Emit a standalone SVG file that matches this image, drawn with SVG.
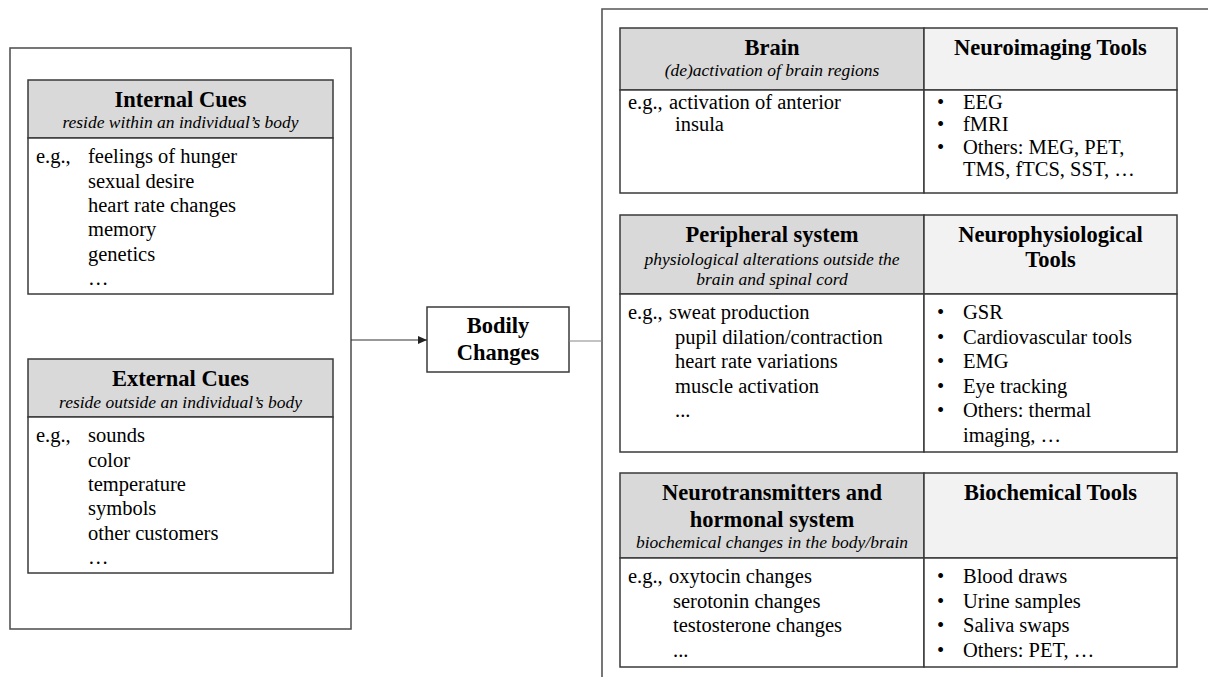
<svg xmlns="http://www.w3.org/2000/svg" width="1208" height="677" viewBox="0 0 1208 677">
<defs>
<style>
.frame{fill:none;stroke:#555;stroke-width:1.6}
.box{fill:#fff;stroke:#3a3a3a;stroke-width:1.5}
.hd{fill:#d9d9d9;stroke:#3a3a3a;stroke-width:1.5}
.hd2{fill:#f2f2f2;stroke:#3a3a3a;stroke-width:1.5}
text{font-family:"Liberation Serif","Times New Roman",serif;fill:#000}
.t{font-size:22.5px;font-weight:bold;text-anchor:middle}
.s{font-size:17.5px;font-style:italic;text-anchor:middle}
.b{font-size:20.5px}
.ln{stroke:#333;stroke-width:1.2;fill:none}
.ln2{stroke:#888;stroke-width:1.2;fill:none}
</style>
<marker id="arr" markerWidth="10" markerHeight="8" refX="9" refY="4" orient="auto" markerUnits="userSpaceOnUse"><path d="M0,0 L9,4 L0,8 z" fill="#222"/></marker>
</defs>

<g id="cues-frame">
<rect class="frame" x="10" y="48" width="341" height="581"/>
</g>

<g id="internal-cues">
<rect class="hd" x="28" y="80" width="305" height="58"/>
<rect class="box" x="28" y="138" width="305" height="156"/>
<text class="t" x="180.5" y="107">Internal Cues</text>
<text class="s" x="180.5" y="128">reside within an individual’s body</text>
<text class="b" x="36" y="163">e.g.,</text>
<text class="b" x="88" y="163">feelings of hunger</text>
<text class="b" x="88" y="187.5">sexual desire</text>
<text class="b" x="88" y="212">heart rate changes</text>
<text class="b" x="88" y="236">memory</text>
<text class="b" x="88" y="260.5">genetics</text>
<text class="b" x="88" y="285">…</text>
</g>

<g id="external-cues">
<rect class="hd" x="28" y="359" width="305" height="58"/>
<rect class="box" x="28" y="417" width="305" height="156"/>
<text class="t" x="180.5" y="386">External Cues</text>
<text class="s" x="180.5" y="408">reside outside an individual’s body</text>
<text class="b" x="36" y="442">e.g.,</text>
<text class="b" x="88" y="442">sounds</text>
<text class="b" x="88" y="466.5">color</text>
<text class="b" x="88" y="491">temperature</text>
<text class="b" x="88" y="515">symbols</text>
<text class="b" x="88" y="539.5">other customers</text>
<text class="b" x="88" y="564">…</text>
</g>

<g id="bodily-changes">
<rect class="box" x="427" y="307" width="142" height="65"/>
<text class="t" x="498" y="333">Bodily</text>
<text class="t" x="498" y="360">Changes</text>
</g>

<g id="measures-frame">
<path class="frame" d="M602,680 L602,9 L1210,9"/>
</g>

<g id="brain">
<rect class="hd" x="620" y="28" width="304" height="62"/>
<rect class="hd2" x="924" y="28" width="253" height="62"/>
<rect class="box" x="620" y="90" width="304" height="103"/>
<rect class="box" x="924" y="90" width="253" height="103"/>
<text class="t" x="772" y="55">Brain</text>
<text class="s" x="772" y="76">(de)activation of brain regions</text>
<text class="t" x="1050.5" y="55">Neuroimaging Tools</text>
<text class="b" x="628" y="109">e.g.,</text>
<text class="b" x="669" y="109">activation of anterior</text>
<text class="b" x="675" y="131.3">insula</text>
<text class="b" x="937" y="109">•</text>
<text class="b" x="963" y="109">EEG</text>
<text class="b" x="937" y="131.3">•</text>
<text class="b" x="963" y="131.3">fMRI</text>
<text class="b" x="937" y="153.6">•</text>
<text class="b" x="963" y="153.6">Others: MEG, PET,</text>
<text class="b" x="963" y="176">TMS, fTCS, SST, …</text>
</g>

<g id="peripheral">
<rect class="hd" x="620" y="215" width="304" height="79"/>
<rect class="hd2" x="924" y="215" width="253" height="79"/>
<rect class="box" x="620" y="294" width="304" height="158"/>
<rect class="box" x="924" y="294" width="253" height="158"/>
<text class="t" x="772" y="242">Peripheral system</text>
<text class="s" x="772" y="265">physiological alterations outside the</text>
<text class="s" x="772" y="285">brain and spinal cord</text>
<text class="t" x="1050.5" y="242">Neurophysiological</text>
<text class="t" x="1050.5" y="267">Tools</text>
<text class="b" x="628" y="319">e.g.,</text>
<text class="b" x="669" y="319">sweat production</text>
<text class="b" x="675" y="343.5">pupil dilation/contraction</text>
<text class="b" x="675" y="368">heart rate variations</text>
<text class="b" x="675" y="392.5">muscle activation</text>
<text class="b" x="675" y="417">...</text>
<text class="b" x="937" y="319">•</text>
<text class="b" x="963" y="319">GSR</text>
<text class="b" x="937" y="343.5">•</text>
<text class="b" x="963" y="343.5">Cardiovascular tools</text>
<text class="b" x="937" y="368">•</text>
<text class="b" x="963" y="368">EMG</text>
<text class="b" x="937" y="392.5">•</text>
<text class="b" x="963" y="392.5">Eye tracking</text>
<text class="b" x="937" y="417">•</text>
<text class="b" x="963" y="417">Others: thermal</text>
<text class="b" x="963" y="441.5">imaging, …</text>
</g>

<g id="neurotransmitters">
<rect class="hd" x="620" y="473" width="304" height="85"/>
<rect class="hd2" x="924" y="473" width="253" height="85"/>
<rect class="box" x="620" y="558" width="304" height="109"/>
<rect class="box" x="924" y="558" width="253" height="109"/>
<text class="t" x="772" y="500">Neurotransmitters and</text>
<text class="t" x="772" y="527">hormonal system</text>
<text class="s" x="772" y="548">biochemical changes in the body/brain</text>
<text class="t" x="1050.5" y="500">Biochemical Tools</text>
<text class="b" x="628" y="583">e.g.,</text>
<text class="b" x="669" y="583">oxytocin changes</text>
<text class="b" x="673" y="607.5">serotonin changes</text>
<text class="b" x="673" y="632">testosterone changes</text>
<text class="b" x="673" y="656.5">...</text>
<text class="b" x="937" y="583">•</text>
<text class="b" x="963" y="583">Blood draws</text>
<text class="b" x="937" y="607.5">•</text>
<text class="b" x="963" y="607.5">Urine samples</text>
<text class="b" x="937" y="632">•</text>
<text class="b" x="963" y="632">Saliva swaps</text>
<text class="b" x="937" y="656.5">•</text>
<text class="b" x="963" y="656.5">Others: PET, …</text>
</g>

<g id="connectors">
<line class="ln" x1="351" y1="340" x2="427" y2="340" marker-end="url(#arr)"/>
<line class="ln2" x1="569" y1="341" x2="602" y2="341"/>
</g>
</svg>
